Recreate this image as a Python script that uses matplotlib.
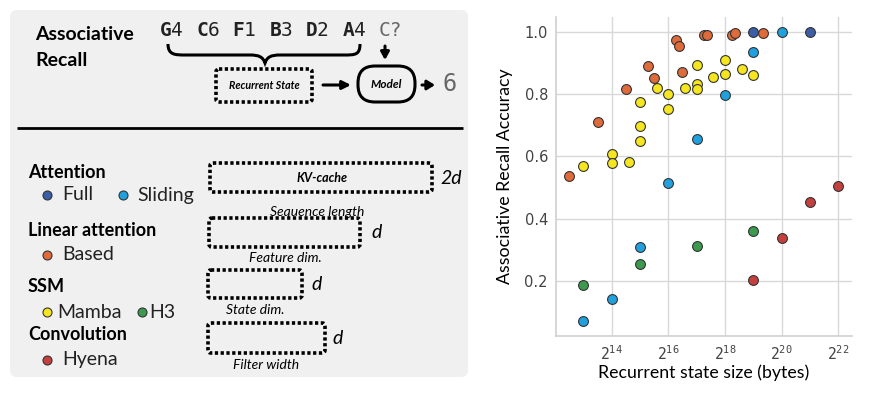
import matplotlib
matplotlib.use("Agg")
import matplotlib.pyplot as plt
from matplotlib.patches import FancyBboxPatch, PathPatch
from matplotlib.path import Path
import numpy as np

# ---------------- data (x given as log2 of recurrent state size in bytes) ----------------
full_x = [19, 21]
full_y = [1.0, 1.0]
sliding_x = [13, 14, 15, 16, 17, 18, 19, 20]
sliding_y = [0.070, 0.142, 0.310, 0.513, 0.655, 0.797, 0.936, 1.0]
based_x = [12.5, 13.5, 14.5, 15.27, 15.48, 16.27, 16.37, 16.48, 17.26, 17.36, 18.26, 18.36, 19.35]
based_y = [0.538, 0.709, 0.815, 0.890, 0.850, 0.973, 0.955, 0.870, 0.990, 0.990, 0.990, 0.995, 0.996]
mamba_x = [13, 14, 14, 14.59, 15, 15, 15, 15.58, 16, 16, 16.58, 17, 17, 17, 17.58, 18, 18, 18.58, 19]
mamba_y = [0.570, 0.608, 0.578, 0.581, 0.773, 0.697, 0.650, 0.820, 0.801, 0.752, 0.820,
           0.894, 0.832, 0.817, 0.855, 0.909, 0.863, 0.881, 0.862]
h3_x = [13, 15, 17, 19]
h3_y = [0.186, 0.254, 0.313, 0.360]
hyena_x = [19, 20, 21, 22]
hyena_y = [0.203, 0.339, 0.453, 0.506]

x_tick_exps = [14, 16, 18, 20, 22]
y_ticks = [0.2, 0.4, 0.6, 0.8, 1.0]

seq_letters = ["G", "C", "F", "B", "D", "A", "C"]
seq_values = ["4", "6", "1", "3", "2", "4", "?"]

colors = {
    "Full": "#3b5ea6",
    "Sliding": "#20a0dc",
    "Based": "#e06b3a",
    "Mamba": "#f6e620",
    "H3": "#3c9a50",
    "Hyena": "#c63f3f",
}

plt.rcParams["mathtext.fontset"] = "custom"
plt.rcParams["mathtext.rm"] = "DejaVu Sans Mono"
plt.rcParams["mathtext.bf"] = "DejaVu Sans Mono:bold"

W, H = 869, 393
fig = plt.figure(figsize=(W / 100, H / 100), dpi=100)

# ---------------- left panel (pixel coordinate axes) ----------------
bg = fig.add_axes([0, 0, 1, 1])
bg.set_xlim(0, W)
bg.set_ylim(H, 0)
bg.axis("off")

LF = "Lato"
bg.add_patch(FancyBboxPatch((10, 10), 458, 367, boxstyle="round,pad=0,rounding_size=7",
                            facecolor="#f0f0f0", edgecolor="none"))

bg.text(35, 34, "Associative", fontfamily=LF, fontweight="bold", fontsize=14, va="center", ha="left")
bg.text(35, 60, "Recall", fontfamily=LF, fontweight="bold", fontsize=14, va="center", ha="left")

# sequence
x0, step = 159, 36.6
for i, (l, v) in enumerate(zip(seq_letters, seq_values)):
    xx = x0 + i * step
    last = i == len(seq_letters) - 1
    s = (l + v) if last else (r"$\mathbf{" + l + "}$" + v)
    bg.text(xx, 31, s, fontfamily="DejaVu Sans Mono", fontsize=14, va="center", ha="left",
            color="#666666" if last else "#222222")

# brace
verts = [(168, 44), (168, 55), (175, 55), (186, 55),
         (250, 55), (259, 55), (263, 57), (265, 63),
         (267, 57), (271, 55), (280, 55), (344, 55),
         (355, 55), (360, 55), (360, 44)]
codes = [Path.MOVETO, Path.CURVE4, Path.CURVE4, Path.CURVE4,
         Path.LINETO, Path.CURVE4, Path.CURVE4, Path.CURVE4,
         Path.CURVE4, Path.CURVE4, Path.CURVE4, Path.LINETO,
         Path.CURVE4, Path.CURVE4, Path.CURVE4]
bg.add_patch(PathPatch(Path(verts, codes), facecolor="none", edgecolor="black", lw=2.2))

dot_ls = (0, (0.9, 0.7))
# recurrent state box
bg.add_patch(FancyBboxPatch((216, 69), 96, 33, boxstyle="round,pad=0,rounding_size=3",
                            facecolor="none", edgecolor="black", lw=2.6, linestyle=dot_ls))
bg.text(264, 85.5, "Recurrent State", fontfamily=LF, fontweight="bold", style="italic",
        fontsize=7.7, va="center", ha="center")
# arrow to model
bg.annotate("", xy=(351, 85), xytext=(323, 85),
            arrowprops=dict(arrowstyle="-|>,head_length=0.5,head_width=0.25", lw=2.2, color="black",
                            shrinkA=0, shrinkB=0))
# model box
bg.add_patch(FancyBboxPatch((358, 66), 57, 36, boxstyle="round,pad=0,rounding_size=17",
                            facecolor="none", edgecolor="black", lw=2.2))
bg.text(386.5, 84.5, "Model", fontfamily=LF, fontweight="bold", style="italic",
        fontsize=8.5, va="center", ha="center")
# down arrow
bg.annotate("", xy=(385, 60), xytext=(385, 46),
            arrowprops=dict(arrowstyle="-|>,head_length=0.45,head_width=0.25", lw=2.2, color="black",
                            shrinkA=0, shrinkB=0))
# arrow to answer
bg.annotate("", xy=(435, 85), xytext=(422, 85),
            arrowprops=dict(arrowstyle="-|>,head_length=0.45,head_width=0.28", lw=2.2, color="black",
                            shrinkA=0, shrinkB=0))
bg.text(443, 84, "6", fontfamily="DejaVu Sans Mono", fontsize=17, va="center", ha="left", color="#666666")

# separator
bg.plot([17, 463], [128, 128], color="black", lw=2, solid_capstyle="butt")

# legend section
TS = 13
LS = 14
def title(y, s):
    bg.text(28, y, s, fontfamily=LF, fontweight="bold", fontsize=TS, va="center", ha="left")

def entry(xm, y, name, xt):
    bg.scatter([xm], [y], s=42, color=colors[name], edgecolor="#333333", linewidth=0.8, zorder=5)
    bg.text(xt, y, name, fontfamily=LF, fontsize=LS, va="center", ha="left", color="#222222")

title(173, "Attention")
entry(47, 195, "Full", 62)
entry(123, 195, "Sliding", 137)
title(230, "Linear attention")
entry(47, 255, "Based", 62)
title(287, "SSM")
entry(47, 312, "Mamba", 57)
entry(142, 312, "H3", 149)
title(335, "Convolution")
entry(47, 360, "Hyena", 62)

def dbox(x1, y1, x2, y2):
    bg.add_patch(FancyBboxPatch((x1, y1), x2 - x1, y2 - y1, boxstyle="round,pad=0,rounding_size=3",
                                facecolor="none", edgecolor="black", lw=2.6, linestyle=dot_ls))

dbox(210, 163, 432, 192)
bg.text(322, 178, "KV-cache", fontfamily=LF, fontweight="bold", style="italic", fontsize=9,
        va="center", ha="center")
bg.text(440, 178, "2d", fontfamily=LF, style="italic", fontsize=14, va="center", ha="left")
bg.text(317, 212, "Sequence length", fontfamily=LF, style="italic", fontsize=10, va="center", ha="center")

dbox(209, 218, 360, 247)
bg.text(371, 232, "d", fontfamily=LF, style="italic", fontsize=14, va="center", ha="left")
bg.text(285, 258, "Feature dim.", fontfamily=LF, style="italic", fontsize=10, va="center", ha="center")

dbox(208, 270, 302, 298)
bg.text(311, 285, "d", fontfamily=LF, style="italic", fontsize=14, va="center", ha="left")
bg.text(255, 310, "State dim.", fontfamily=LF, style="italic", fontsize=10, va="center", ha="center")

dbox(208, 323, 325, 353)
bg.text(332, 338, "d", fontfamily=LF, style="italic", fontsize=14, va="center", ha="left")
bg.text(266, 365, "Filter width", fontfamily=LF, style="italic", fontsize=10, va="center", ha="center")

# ---------------- right scatter ----------------
L, R, T, B = 556.3, 851.7, 16.7, 335.7
ax = fig.add_axes([L / W, 1 - B / H, (R - L) / W, (B - T) / H])
ax.set_facecolor("white")

def series(xs, ys, name):
    ax.scatter(2.0 ** np.array(xs), ys, s=50, color=colors[name], edgecolor="#333333",
               linewidth=0.8, zorder=3)

series(full_x, full_y, "Full")
series(sliding_x, sliding_y, "Sliding")
series(based_x, based_y, "Based")
series(mamba_x, mamba_y, "Mamba")
series(h3_x, h3_y, "H3")
series(hyena_x, hyena_y, "Hyena")

ax.set_xscale("log", base=2)
ax.set_xlim(2 ** 12.04, 2 ** 22.47)
ax.set_ylim(0.024, 1.048)
ax.set_xticks([2.0 ** e for e in x_tick_exps])
ax.set_xticklabels([f"$2^{{{e}}}$" for e in x_tick_exps])
ax.xaxis.set_minor_locator(matplotlib.ticker.NullLocator())
ax.set_yticks(y_ticks)
ax.set_yticklabels([f"{v:.1f}" for v in y_ticks])
ax.grid(True, color="#d8d8d8", lw=1.0)
ax.set_axisbelow(True)
for s in ["top", "right"]:
    ax.spines[s].set_visible(False)
for s in ["left", "bottom"]:
    ax.spines[s].set_color("#d0d0d0")
    ax.spines[s].set_linewidth(1.2)
ax.tick_params(length=0, labelsize=10.5, labelcolor="#444444", pad=6)
for lab in ax.get_xticklabels():
    lab.set_fontfamily("DejaVu Sans")
ax.set_xlabel("Recurrent state size (bytes)", fontfamily=LF, fontsize=12.8, labelpad=1)
ax.set_ylabel("Associative Recall Accuracy", fontfamily=LF, fontsize=12.8, labelpad=8)

fig.savefig("out.png", dpi=100)
